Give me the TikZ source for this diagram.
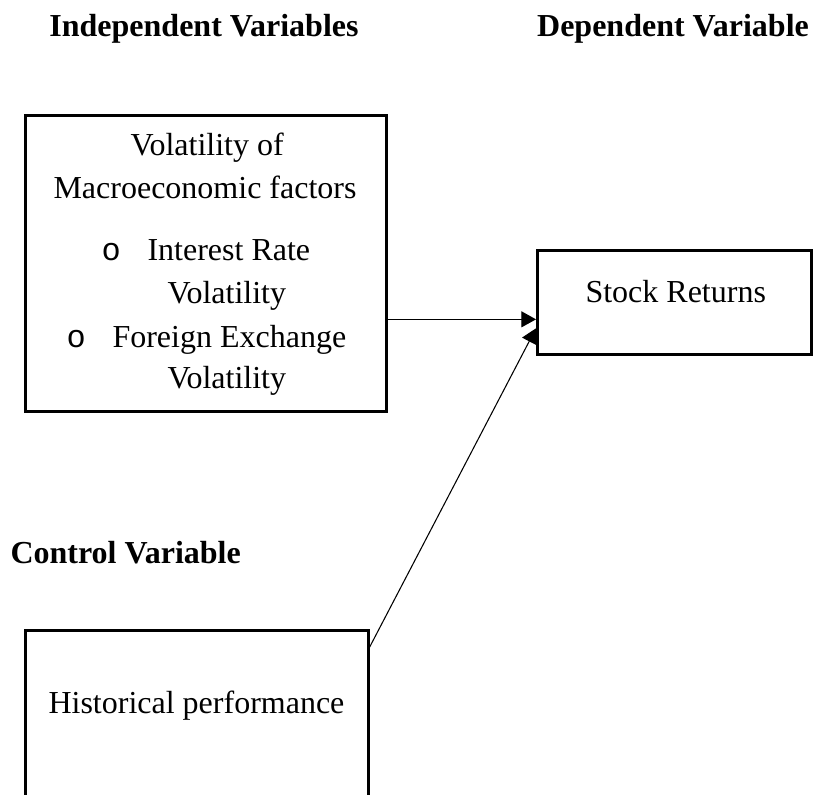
\documentclass[tikz,border=0pt]{standalone}
\usepackage{fontspec}
\setmainfont{Liberation Serif}
\newfontfamily\bulletfont{Liberation Mono}
\usetikzlibrary{arrows.meta}

\tikzset{
  box/.style={draw, line width=1pt, inner sep=0pt, anchor=north west},
  txt/.style={inner sep=0pt, anchor=base west},
  head/.style={inner sep=0pt, anchor=base, font=\fontsize{12}{14}\selectfont\bfseries},
  link/.style={-{Triangle[length=5.5pt,width=6pt]}, line width=0.4pt},
}

\begin{document}
\begin{tikzpicture}[x=0.375pt, y=-0.375pt, font=\fontsize{12}{14}\selectfont]
    \useasboundingbox (0,0) rectangle (814,794);
    \clip (0,0) rectangle (814,794);

    % headings
    \node[head] (indep) at (204,36) {Independent Variables};
    \node[head] (dep) at (673,36) {Dependent Variable};
    \node[head, anchor=base west] (ctrl) at (10,563) {Control Variable};

    % boxes
    \node[box, minimum width=135.375pt, minimum height=111pt] (macro) at (24,114) {};
    \node[box, minimum width=102.75pt, minimum height=39pt] (returns) at (536,249) {};
    \node[box, minimum width=128.625pt, minimum height=75pt] (hist) at (24,629) {};

    % texts in the boxes
    \node[txt] (vol) at (130,155) {Volatility of};
    \node[txt] (mac) at (53,198) {Macroeconomic factors};
    \node[txt] (bulA) at (101,260) {\bulletfont o};
    \node[txt] (ir) at (147,260) {Interest Rate};
    \node[txt] (irv) at (167,303) {Volatility};
    \node[txt] (bulB) at (66,347) {\bulletfont o};
    \node[txt] (fx) at (112,347) {Foreign Exchange};
    \node[txt] (fxv) at (167,388) {Volatility};
    \node[txt] (sr) at (585,302) {Stock Returns};
    \node[txt] (hp) at (48,713) {Historical performance};

    % arrows
    \draw[link] ([yshift=-21pt]macro.east) -- ([yshift=-21pt]macro.east -| returns.west);
    \draw[link] ([yshift=-6.75pt]hist.north east) -- ([yshift=-9.75pt]returns.west);
\end{tikzpicture}
\end{document}
